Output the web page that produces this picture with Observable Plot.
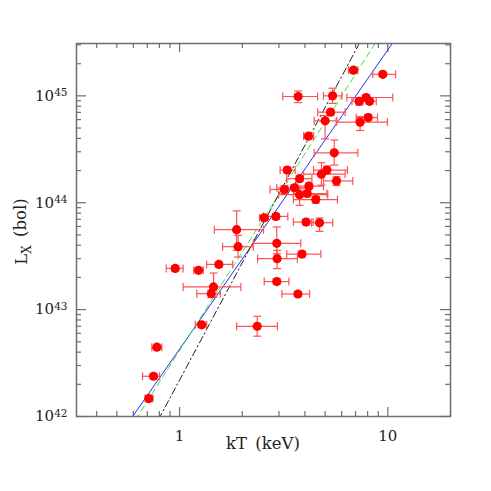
<!DOCTYPE html>
<html><head><meta charset="utf-8">
<script src="https://cdn.jsdelivr.net/npm/d3@7"></script>
<script src="https://cdn.jsdelivr.net/npm/@observablehq/plot@0.6"></script>
<style>body{margin:0;background:#fff}</style>
</head><body><div id="chart"></div>
<script>
// Cluster temperatures (keV) with error ranges
const kT   = [6.84, 9.46, 3.71, 5.43, 7.28, 7.87, 8.17, 5.31, 5.00, 8.05, 7.36, 4.16, 5.53, 3.29, 5.10, 4.80, 3.77, 5.67, 3.19, 3.56, 4.18, 3.77, 4.10, 4.51, 2.55, 2.90, 4.05, 4.70, 1.88, 1.91, 2.93, 2.94, 3.87, 0.953, 1.234, 1.545, 2.93, 1.456, 1.42, 3.70, 2.36, 1.276, 0.778, 0.750, 0.712];
const kTlo = [6.47, 8.47, 3.13, 4.91, 6.73, 6.36, 7.60, 4.61, 4.43, 7.05, 5.65, 3.94, 4.43, 3.04, 4.40, 3.94, 3.27, 4.91, 2.72, 2.93, 3.66, 2.99, 3.52, 3.52, 2.42, 2.53, 3.52, 4.30, 1.47, 1.61, 2.26, 2.37, 3.27, 0.863, 1.17, 1.35, 2.55, 1.04, 1.21, 3.10, 1.88, 1.19, 0.736, 0.664, 0.684];
const kThi = [7.18, 10.9, 4.60, 6.02, 8.07, 10.57, 8.80, 6.24, 5.69, 8.92, 9.96, 4.40, 7.18, 3.59, 6.40, 6.24, 4.32, 6.79, 3.77, 4.24, 4.91, 5.15, 5.10, 5.73, 2.67, 3.31, 4.38, 5.44, 2.53, 2.26, 3.82, 3.68, 4.77, 1.04, 1.30, 1.80, 3.35, 1.97, 1.57, 4.21, 2.95, 1.35, 0.822, 0.802, 0.745];
// Bolometric X-ray luminosities (erg/s) with error ranges
const Lx   = [1.74e45, 1.59e45, 9.86e44, 1.0e45, 8.9e44, 9.65e44, 8.9e44, 7.04e44, 5.84e44, 6.27e44, 5.68e44, 4.2e44, 2.93e44, 2.02e44, 2.02e44, 1.85e44, 1.68e44, 1.6e44, 1.33e44, 1.38e44, 1.43e44, 1.19e44, 1.22e44, 1.07e44, 7.24e43, 7.45e43, 6.6e43, 6.5e43, 5.6e43, 3.88e43, 4.17e43, 3.0e43, 3.31e43, 2.43e43, 2.33e43, 2.65e43, 1.83e43, 1.63e43, 1.41e43, 1.40e43, 6.98e42, 7.2e42, 4.45e42, 2.38e42, 1.47e42];
const LxLo = [1.65e45, 1.52e45, 8.65e44, 8.5e44, 8.2e44, 9.1e44, 8.4e44, 6.6e44, 3.96e44, 5.9e44, 4.74e44, 3.95e44, 2.25e44, 1.9e44, 1.87e44, 1.46e44, 1.58e44, 1.45e44, 1.22e44, 1.3e44, 1.35e44, 9.45e43, 1.14e44, 9.9e43, 6.9e43, 7.0e43, 6.2e43, 5.4e43, 3.58e43, 3.1e43, 3.33e43, 2.42e43, 3.1e43, 2.3e43, 2.2e43, 2.5e43, 1.73e43, 1.31e43, 1.3e43, 1.33e43, 5.64e42, 6.8e42, 4.25e42, 2.25e42, 1.4e42];
const LxHi = [1.84e45, 1.67e45, 1.11e45, 1.18e45, 9.6e44, 1.02e45, 9.4e44, 7.5e44, 6.55e44, 6.7e44, 6.41e44, 4.45e44, 3.86e44, 2.15e44, 2.2e44, 2.37e44, 1.79e44, 1.75e44, 1.45e44, 1.47e44, 1.52e44, 1.35e44, 1.3e44, 1.15e44, 7.6e43, 7.9e43, 7.0e43, 7.2e43, 8.4e43, 4.95e43, 5.93e43, 3.58e43, 3.5e43, 2.57e43, 2.45e43, 2.8e43, 1.93e43, 2.2e43, 1.52e43, 1.47e43, 8.67e42, 7.6e42, 4.65e42, 2.52e42, 1.55e42];

// Power-law fits L = norm * kT^slope
const fitNames = ["blue", "green", "black"];
const fitNorm  = [4.27e42, 4.14e42, 2.19e42];
const fitSlope = [2.80, 3.06, 3.65];

// Axis ticks
const xMajor = [1, 10];
const xMinor = [0.4, 0.5, 0.6, 0.7, 0.8, 0.9, 2, 3, 4, 5, 6, 7, 8, 9, 20];
const yMajor = [1e42, 1e43, 1e44, 1e45];
const yMinor = [2e42,3e42,4e42,5e42,6e42,7e42,8e42,9e42, 2e43,3e43,4e43,5e43,6e43,7e43,8e43,9e43, 2e44,3e44,4e44,5e44,6e44,7e44,8e44,9e44, 2e45,3e45];

const W = 491, H = 491, mL = 76, mR = 41, mT = 43, mB = 75;
const innerW = W - mL - mR, innerH = H - mT - mB;
const xDomain = [0.32, 20], yDomain = [1e42, 10 ** 45.49];

const points = kT.map((t, i) => ({t, tlo: kTlo[i], thi: kThi[i], L: Lx[i], Llo: LxLo[i], Lhi: LxHi[i]}));
const fitLines = fitNames.flatMap((name, j) => xDomain.map(t => ({name, t, L: fitNorm[j] * t ** fitSlope[j]})));
const fitStyle = {
  blue: {stroke: "#2a2aff", strokeDasharray: null},
  green: {stroke: "#33ee33", strokeDasharray: "6,4"},
  black: {stroke: "#222", strokeDasharray: "7,3,1.5,3"}
};

const errColor = "#ff5252";
const vCap = {draw(ctx) { ctx.moveTo(0, -4); ctx.lineTo(0, 4); }};
const hCap = {draw(ctx) { ctx.moveTo(-4, 0); ctx.lineTo(4, 0); }};
const frameColor = "#6e6e6e";
const font = "DejaVu Serif";

const marks = [];
// ticks inward on all sides
const tickX = (vals, len, side) => Plot.tickX(vals, {x: d => d, stroke: frameColor, strokeWidth: 1.2,
  insetTop: side === "bottom" ? innerH - len : 0, insetBottom: side === "top" ? innerH - len : 0});
const tickY = (vals, len, side) => Plot.tickY(vals, {y: d => d, stroke: frameColor, strokeWidth: 1.2,
  insetRight: side === "left" ? innerW - len : 0, insetLeft: side === "right" ? innerW - len : 0});
for (const side of ["bottom", "top"]) { marks.push(tickX(xMajor, 9, side), tickX(xMinor, 5, side)); }
for (const side of ["left", "right"]) { marks.push(tickY(yMajor, 10, side), tickY(yMinor, 5, side)); }

for (const name of fitNames) {
  marks.push(Plot.line(fitLines.filter(d => d.name === name), {x: "t", y: "L", strokeWidth: 1, clip: true, ...fitStyle[name]}));
}

marks.push(
  Plot.link(points, {x1: "tlo", x2: "thi", y1: "L", y2: "L", stroke: errColor, strokeWidth: 1.2, clip: true}),
  Plot.link(points, {x1: "t", x2: "t", y1: "Llo", y2: "Lhi", stroke: errColor, strokeWidth: 1.2, clip: true}),
  Plot.dot(points, {x: "tlo", y: "L", symbol: vCap, fill: "none", stroke: errColor, strokeWidth: 1.2}),
  Plot.dot(points, {x: "thi", y: "L", symbol: vCap, fill: "none", stroke: errColor, strokeWidth: 1.2}),
  Plot.dot(points, {x: "t", y: "Llo", symbol: hCap, fill: "none", stroke: errColor, strokeWidth: 1.2}),
  Plot.dot(points, {x: "t", y: "Lhi", symbol: hCap, fill: "none", stroke: errColor, strokeWidth: 1.2}),
  Plot.dot(points, {x: "t", y: "L", r: 4.6, fill: "#ff0000", stroke: "none"}),
  Plot.frame({stroke: frameColor, strokeWidth: 1.5}),
  Plot.axisX({ticks: xMajor, tickSize: 0, tickPadding: 14, tickFormat: d => String(d), fontSize: 15}),
  Plot.axisY({ticks: yMajor, tickSize: 0, tickPadding: 9, tickFormat: d => String(Math.round(Math.log10(d))), fontSize: 15})
);

const svg = Plot.plot({
  width: W, height: H,
  marginLeft: mL, marginRight: mR, marginTop: mT, marginBottom: mB,
  x: {type: "log", domain: xDomain},
  y: {type: "log", domain: yDomain},
  style: {fontFamily: font, fontSize: "15px", background: "#fff", color: "#222"},
  marks
});

const s = d3.select(svg);
s.selectAll('g[aria-label="y-axis tick label"] text').each(function () {
  const t = d3.select(this);
  const e = t.text();
  t.text(null);
  t.append("tspan").text("10");
  t.append("tspan").attr("dy", "-0.45em").attr("font-size", "10.5px").text(e);
});
s.append("text").attr("x", (mL + W - mR) / 2).attr("y", 449).attr("text-anchor", "middle")
  .attr("font-family", font).attr("font-size", 16.5).attr("word-spacing", 3).attr("fill", "#222").text("kT (keV)");
const yl = s.append("text").attr("transform", `translate(27,${(mT + H - mB) / 2 + 2}) rotate(-90)`)
  .attr("text-anchor", "middle").attr("font-family", font).attr("font-size", 16.5).attr("word-spacing", 3).attr("fill", "#222");
yl.append("tspan").text("L");
yl.append("tspan").attr("dy", "0.3em").attr("font-size", 12).text("X");
yl.append("tspan").attr("dy", "-0.3em").text(" (bol)");

document.getElementById("chart").appendChild(svg);
</script>
</body></html>
